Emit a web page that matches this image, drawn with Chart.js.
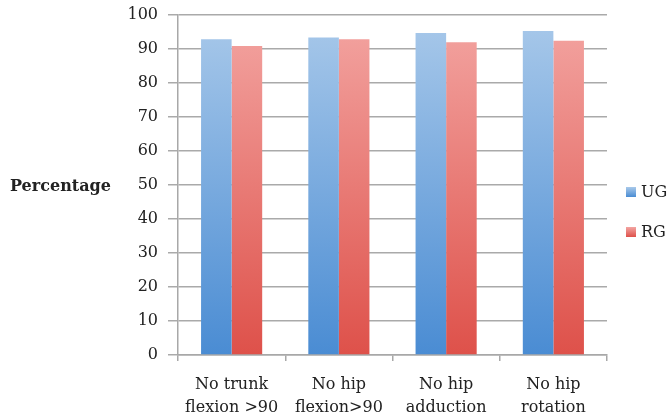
<!DOCTYPE html>
<html><head><meta charset="utf-8">
<script src="https://cdn.jsdelivr.net/npm/chart.js@4/dist/chart.umd.min.js"></script>
<style>html,body{margin:0;padding:0;background:#fff}#wrap{width:668px;height:420px}</style>
</head><body><div id="wrap"><canvas id="c" width="668" height="420"></canvas></div>
<script>
const categories = [['No trunk','flexion >90'],['No hip','flexion>90'],['No hip','adduction'],['No hip','rotation']];
const ugValues = [92.9, 93.4, 94.7, 95.3];
const rgValues = [90.9, 92.9, 92.0, 92.4];
const seriesNames = ['UG','RG'];
const yTicks = [0,10,20,30,40,50,60,70,80,90,100];
const yTitle = 'Percentage';

const FONT = '"DejaVu Serif", "Liberation Serif", serif';

function grad(top, bottom){
  return (ctx) => {
    const ch = ctx.chart; const a = ch.chartArea;
    if(!a) return bottom;
    const g = ch.ctx.createLinearGradient(0, a.top, 0, a.bottom);
    g.addColorStop(0, top); g.addColorStop(1, bottom);
    return g;
  };
}
const legendColors = [['#a9c9ea','#4a8cd3'],['#f3a5a2','#de514a']];

const legendPlugin = {
  id:'customLegend',
  afterDraw(chart){
    const c = chart.ctx;
    c.save();
    c.font = '16px ' + FONT;
    c.textBaseline = 'middle';
    c.fillStyle = '#222';
    const x = 626, y0 = 192, step = 40;
    chart.data.datasets.forEach((ds,i)=>{
      const y = y0 + i*step;
      const g = c.createLinearGradient(0,y-5,0,y+5);
      g.addColorStop(0, legendColors[i][0]); g.addColorStop(1, legendColors[i][1]);
      c.fillStyle = g; c.fillRect(x, y-5, 10, 10);
      c.fillStyle = '#222';
      c.fillText(ds.label, x+15, y+1);
    });
    c.font = 'bold 16px ' + FONT;
    c.textAlign = 'left';
    c.fillText(yTitle, 10, 187);
    c.restore();
  }
};

new Chart(document.getElementById('c'), {
  type:'bar',
  data:{
    labels: categories,
    datasets:[
      {label:seriesNames[0], data:ugValues, backgroundColor:grad(legendColors[0][0], legendColors[0][1])},
      {label:seriesNames[1], data:rgValues, backgroundColor:grad(legendColors[1][0], legendColors[1][1])}
    ]
  },
  options:{
    responsive:false, animation:false,
    layout:{padding:{left:120, right:61, top:15, bottom:0}},
    plugins:{legend:{display:false}, tooltip:{enabled:false}},
    datasets:{bar:{categoryPercentage:0.57, barPercentage:1}},
    scales:{
      x:{
        afterFit(s){ s.height = 65; s.paddingLeft = 0; s.paddingRight = 0; },
        grid:{display:true, drawOnChartArea:false, drawTicks:true, tickLength:6, color:'#a8a8a8', lineWidth:1.5, offset:true},
        border:{color:'#a8a8a8', width:1.5},
        ticks:{color:'#222', font:{family:FONT, size:16, lineHeight:1.4}, padding:13, maxRotation:0, autoSkip:false}
      },
      y:{
        min:0, max:100,
        afterFit(s){ s.width = 58; s.paddingTop = 0; s.paddingBottom = 0; },
        afterBuildTicks(s){ s.ticks = yTicks.map(v=>({value:v})); },
        grid:{color:'#aaaaaa', lineWidth:1.5, tickLength:10, drawTicks:true},
        border:{color:'#a8a8a8', width:1.5},
        ticks:{color:'#222', font:{family:FONT, size:16}, padding:10}
      }
    }
  },
  plugins:[legendPlugin]
});
</script></body></html>
